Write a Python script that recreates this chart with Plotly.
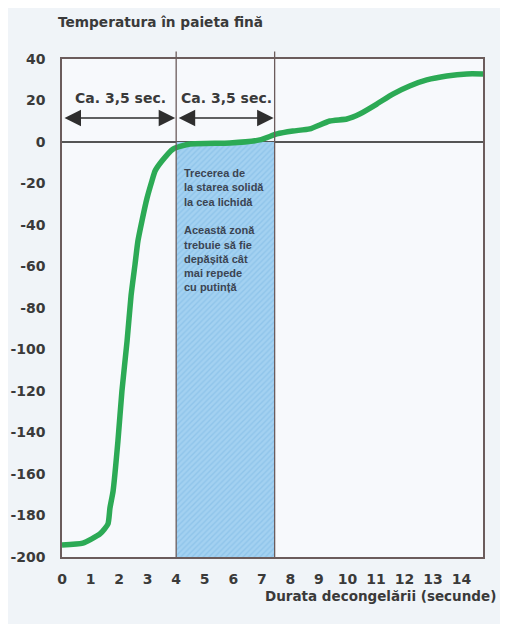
import plotly.graph_objects as go

# ---- data ----
time_s = [0.0, 0.73, 1.33, 1.61, 1.68, 1.79, 1.96, 2.10, 2.28, 2.42, 2.56, 2.66, 2.80,
          2.98, 3.15, 3.26, 3.50, 3.89, 4.48, 5.88, 6.93, 7.53, 8.09, 8.68, 9.38, 9.98,
          10.43, 11.03, 11.59, 12.18, 12.78, 13.48, 14.18, 14.75]
temp_c = [-194.2, -193.3, -188.9, -184.1, -176.4, -168.2, -144.1, -120.0, -95.9, -74.0,
          -58.8, -47.7, -38.1, -27.0, -18.8, -14.0, -9.2, -3.4, -1.0, -0.5, 1.0, 3.9,
          5.3, 6.3, 10.1, 11.1, 13.5, 18.3, 23.1, 27.0, 29.9, 31.8, 32.8, 32.8]

x_ticks = list(range(0, 15))
y_ticks = list(range(-200, 41, 20))

zone_start = 4.0
zone_end = 7.45
arrow_level = 11.6
label_level = 21
interval_labels = ["Ca. 3,5 sec.", "Ca. 3,5 sec."]
zone_text = ("Trecerea de<br>la starea solidă<br>la cea lichidă<br><br>"
             "Această zonă<br>trebuie să fie<br>depășită cât<br>mai repede<br>cu putință")

FONT = "DejaVu Sans"
INK = "#3a3a3a"
BORDER = "#6b5c5c"

# page body adds an 8px margin, so the figure is sized to fit the window
W, H = 500, 616

fig = go.Figure()

# shaded hatched zone
fig.add_trace(go.Bar(
    x=[(zone_start + zone_end) / 2], y=[0 - (-200)], base=[-200],
    width=[zone_end - zone_start],
    marker=dict(color="#a3d1f1", line=dict(width=0),
                pattern=dict(shape="/", fgcolor="#7cb8e3", size=4, solidity=0.35)),
    hoverinfo="skip", showlegend=False))

# temperature curve
fig.add_trace(go.Scatter(
    x=time_s, y=temp_c, mode="lines",
    line=dict(color="#2caa55", width=5.5, shape="spline", smoothing=0.5),
    showlegend=False))

# vertical zone boundaries
for xv in (zone_start, zone_end):
    fig.add_shape(type="line", xref="x", yref="paper", x0=xv, x1=xv, y0=0, y1=1.015,
                  line=dict(color=BORDER, width=1.3), layer="above")

# double arrows
segments = [(0, zone_start), (zone_start, zone_end)]
for (a, b), lab in zip(segments, interval_labels):
    fig.add_annotation(x=b, y=arrow_level, ax=a, ay=arrow_level, xref="x", yref="y",
                       axref="x", ayref="y", text="", showarrow=True,
                       arrowhead=2, arrowside="end+start", arrowsize=2.2,
                       arrowwidth=1.5, arrowcolor="#2e2e2e", standoff=1, startstandoff=1)
    fig.add_annotation(x=(a + b) / 2 + 0.05, y=label_level, xref="x", yref="y",
                       text=f"<b>{lab}</b>", showarrow=False,
                       font=dict(family=FONT, size=14, color=INK))

# zone description
fig.add_annotation(x=zone_start + 0.2, y=-11, xref="x", yref="y", text=f"<b>{zone_text}</b>",
                   showarrow=False, xanchor="left", yanchor="top", align="left",
                   font=dict(family="Liberation Sans", size=11, color="#3b4452"))

# x axis title
fig.add_annotation(x=1.035, y=-0.078, xref="paper", yref="paper",
                   text="<b>Durata decongelării (secunde)</b>", showarrow=False,
                   xanchor="right", yanchor="middle",
                   font=dict(family=FONT, size=13.5, color=INK))

fig.update_layout(
    width=W, height=H,
    margin=dict(l=54, r=25, t=51, b=67, autoexpand=False),
    paper_bgcolor="#f0f4f8", plot_bgcolor="#f7f9fc",
    barmode="overlay",
    title=dict(text="<b>Temperatura în paieta fină</b>", x=50 / W, y=1 - 14 / H,
               xanchor="left", yanchor="middle",
               font=dict(family=FONT, size=13.7, color=INK)),
    xaxis=dict(range=[0, 14.75], tickvals=x_ticks, ticktext=[f"<b>{v}</b>" for v in x_ticks],
               showgrid=False, zeroline=False, showline=True, mirror=True, automargin=False,
               linecolor=BORDER, linewidth=1.5, ticks="", ticklabelstandoff=8,
               tickfont=dict(family=FONT, size=14, color=INK)),
    yaxis=dict(range=[-200, 40], tickvals=y_ticks, ticktext=[f"<b>{v}</b>" for v in y_ticks],
               showgrid=False, zeroline=True, zerolinecolor="#555555", zerolinewidth=1.5,
               showline=True, mirror=True, linecolor=BORDER, linewidth=1.5, ticks="",
               ticklabelstandoff=12, automargin=False,
               tickfont=dict(family=FONT, size=14, color=INK)),
)

fig.write_html("out.html")
